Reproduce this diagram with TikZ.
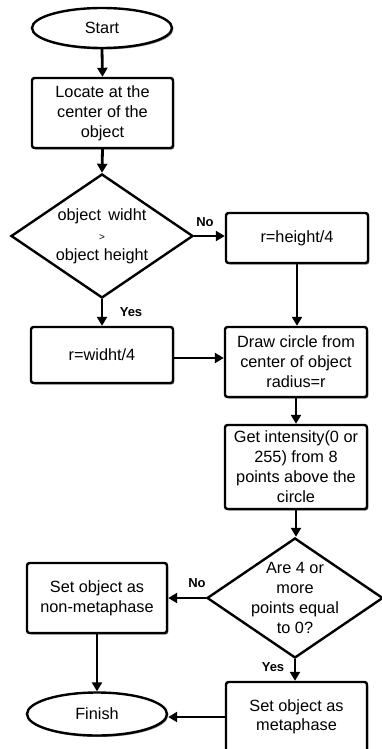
\documentclass[tikz,border=0pt]{standalone}
\usepackage{fontspec}
\setmainfont{Liberation Sans}
\usetikzlibrary{shapes.geometric,arrows.meta,shadows}
\begin{document}
\begin{tikzpicture}[x=1pt,y=-1pt,
  every node/.style={font=\fontsize{16.3}{20}\selectfont, align=center, inner sep=0pt},
  shad/.style={drop shadow={shadow xshift=1.3pt,shadow yshift=-1.5pt,fill=black!45,opacity=1}},
  procbox/.style={draw, line width=2.4pt, rounded corners=2.5pt, fill=white, shad},
  term/.style={draw, ellipse, line width=2.4pt, fill=white, shad},
  decision/.style={draw, diamond, line width=2.4pt, fill=white},
  arr/.style={line width=2.8pt, -{Triangle[length=9pt,width=10pt]}},
  lab/.style={font=\bfseries\fontsize{13}{15}\selectfont}
]
\useasboundingbox (0,0) rectangle (382,749);

\node[term, minimum width=140pt, minimum height=40pt] (start) at (102,28) {Start};
\node[procbox, minimum width=141pt, minimum height=70pt] (locate) at (102.5,113) {Locate at the\\center of the\\object};
\node[decision, minimum width=182pt, minimum height=124pt,
  label={[align=center, font=\fontsize{16.3}{20}\selectfont]center:object\,\ widht\\{\fontsize{10}{11}\selectfont >}\\object height}] (dec1) at (102,236) {};
\node[procbox, minimum width=142pt, minimum height=50pt] (hbox) at (297,238) {r=height/4};
\node[procbox, minimum width=142pt, minimum height=56pt] (wbox) at (102,355) {r=widht/4};
\node[procbox, minimum width=142pt, minimum height=70pt] (drawc) at (296,362) {Draw circle from\\center of object\\radius=r};
\node[procbox, minimum width=142pt, minimum height=84pt] (get) at (296,467) {Get intensity(0 or\\255) from 8\\points above the\\circle};
\node[decision, minimum width=176pt, minimum height=120pt,
  label={[align=center, font=\fontsize{16.3}{20}\selectfont]center:Are 4 or\\more\\points equal\\to 0?}] (dec2) at (295,598) {};
\node[procbox, minimum width=140pt, minimum height=70pt] (nonmeta) at (97,598) {Set object as\\non-metaphase};
\node[term, minimum width=140pt, minimum height=43pt] (finish) at (97,714) {Finish};
\node[procbox, minimum width=141pt, minimum height=70pt] (meta) at (296.5,717) {\raisebox{2pt}{\shortstack{Set object as\\[1pt]metaphase}}};

\node[lab] (no1) at (205,222) {No};
\node[lab] (yes1) at (131,312) {Yes};
\node[lab] (no2) at (197,583) {No};
\node[lab] (yes2) at (273,667) {Yes};

\draw[arr] (start.south) -- (locate.north);
\draw[arr] (locate.south) -- (dec1.north);
\draw[arr] (dec1.south) -- (wbox.north);
\draw[arr] (dec1.east) -- (dec1.east -| hbox.west);
\draw[arr] (hbox.south) -- (hbox.south |- drawc.north);
\draw[arr, line width=2.2pt] ([yshift=-3pt]wbox.east) -- ([yshift=-3pt]wbox.east -| drawc.west);
\draw[arr] (drawc.south) -- (get.north);
\draw[arr] (get.south) -- (get.south |- dec2.north);
\draw[arr] (dec2.west) -- (dec2.west -| nonmeta.east);
\draw[arr] (dec2.south) -- (dec2.south |- meta.north);
\draw[arr] (nonmeta.south) -- (finish.north);
\draw[arr, line width=2.2pt] (meta.west) -- (meta.west -| finish.east);
\end{tikzpicture}
\end{document}
